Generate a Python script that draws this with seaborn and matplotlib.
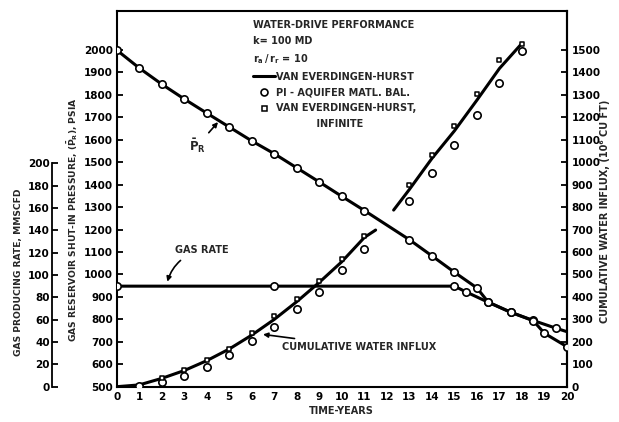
import matplotlib
matplotlib.use("Agg")
import matplotlib.pyplot as plt
from matplotlib.lines import Line2D
import seaborn as sns
import pandas as pd

# ---------------- data ----------------
# Reservoir shut-in pressure, psia (solid line + open circles)
pres_t = [0, 1, 2, 3, 4, 5, 6, 7, 8, 9, 10, 11, 12, 13, 14, 15, 16, 16.5, 17.5, 18.5, 19.5, 20]
pres_v = [2000, 1920, 1848, 1782, 1719, 1657, 1595, 1538, 1475, 1412, 1348, 1285, 1220,
          1155, 1083, 1010, 940, 877, 832, 795, 761, 745]
pres_pt_t = [0, 1, 2, 3, 4, 5, 6, 7, 8, 9, 10, 11, 13, 14, 15, 16, 16.5, 17.5, 18.5, 19.5]
pres_pt_v = [2000, 1920, 1848, 1782, 1719, 1657, 1595, 1538, 1475, 1412, 1348, 1285,
             1155, 1083, 1010, 940, 877, 832, 795, 761]

# Gas producing rate, MMSCFD
gas_t = [0, 7, 15, 15.5, 16.5, 17.5, 18.5, 19, 20]
gas_v = [90, 90, 90, 85, 75.6, 66.6, 59.1, 47.8, 35.8]

# Cumulative water influx, 10^6 cu ft -- Van Everdingen-Hurst line (two segments)
wi_line1_t = [0, 1, 2, 3, 4, 5, 6, 7, 8, 9, 10, 11, 11.5]
wi_line1_v = [0, 8, 37, 72, 116, 168, 230, 300, 379, 465, 557, 665, 698]
wi_line2_t = [12.3, 13, 14, 15, 16, 17, 18]
wi_line2_v = [787, 879, 1017, 1140, 1277, 1418, 1530]
# PI - aquifer material balance (circles)
wi_pi_t = [1, 2, 3, 4, 5, 6, 7, 8, 9, 10, 11, 13, 14, 15, 16, 17, 18]
wi_pi_v = [3, 19, 49, 90, 142, 205, 268, 346, 424, 518, 614, 829, 951, 1077, 1210, 1352, 1497]
# Van Everdingen-Hurst, infinite (squares)
wi_inf_t = [2, 3, 4, 5, 6, 7, 8, 9, 10, 11, 13, 14, 15, 16, 17, 18]
wi_inf_v = [39, 76, 120, 168, 239, 313, 390, 472, 568, 672, 899, 1032, 1161, 1304, 1455, 1525]

x_ticks = list(range(0, 21))
p_ticks = list(range(500, 2001, 100))
wi_ticks = list(range(0, 1501, 100))
gas_ticks = list(range(0, 201, 20))

# ---------------- style ----------------
sns.set_theme(style="white")
plt.rcParams["font.family"] = ["DejaVu Sans"]
plt.rcParams["font.weight"] = "bold"
plt.rcParams["mathtext.fontset"] = "dejavusans"
plt.rcParams["mathtext.default"] = "bf"
plt.rcParams["axes.edgecolor"] = "black"
plt.rcParams["axes.linewidth"] = 1.5

K = "black"
FS_TICK = 7.5
FS_TXT = 7

fig = plt.figure(figsize=(6.19, 4.22), dpi=100)
ax = fig.add_axes([0.18853, 0.08365, 0.72746, 0.89028])
ax2 = ax.twinx()   # water influx (right)
ax3 = ax.twinx()   # gas rate (offset left)

LW = 2.2
# pressure
sns.lineplot(x=pres_t, y=pres_v, ax=ax, color=K, lw=LW, sort=False, estimator=None, zorder=2)
sns.scatterplot(x=pres_pt_t, y=pres_pt_v, ax=ax, marker="o", s=28, color="white",
                edgecolor=K, linewidth=1.2, zorder=4)
# water influx
df1 = pd.DataFrame({"t": wi_line1_t, "v": wi_line1_v})
df2 = pd.DataFrame({"t": wi_line2_t, "v": wi_line2_v})
sns.lineplot(data=df1, x="t", y="v", ax=ax2, color=K, lw=LW, sort=False, estimator=None, zorder=2)
sns.lineplot(data=df2, x="t", y="v", ax=ax2, color=K, lw=LW, sort=False, estimator=None, zorder=2)
sns.scatterplot(x=wi_pi_t, y=wi_pi_v, ax=ax2, marker="o", s=28, color="white",
                edgecolor=K, linewidth=1.2, zorder=4)
sns.scatterplot(x=wi_inf_t, y=wi_inf_v, ax=ax2, marker="s", s=12, color="white",
                edgecolor=K, linewidth=1.1, zorder=4)
# gas rate
sns.lineplot(x=gas_t, y=gas_v, ax=ax3, color=K, lw=LW, sort=False, estimator=None, zorder=2)
sns.scatterplot(x=gas_t, y=gas_v, ax=ax3, marker="o", s=28, color="white",
                edgecolor=K, linewidth=1.2, zorder=4)

# ---------------- axes ----------------
ax.set_xlim(0, 20)
ax.set_ylim(500, 2174)
ax2.set_ylim(0, 1674)
ax3.set_ylim(0, 336.3)

ax.set_xticks(x_ticks)
ax.set_yticks(p_ticks)
ax2.set_yticks(wi_ticks)
ax3.set_yticks(gas_ticks)

for a in (ax, ax2, ax3):
    a.set_xlabel("")
    a.set_ylabel("")
    a.grid(False)

ax.tick_params(axis="x", direction="in", length=4, width=1.3, pad=4, labelsize=FS_TICK, colors=K)
ax.tick_params(axis="y", direction="in", length=4, width=1.3, pad=2.7, labelsize=FS_TICK, colors=K)
ax2.tick_params(axis="y", direction="in", length=4, width=1.3, pad=3.2, labelsize=FS_TICK, colors=K)
ax3.tick_params(axis="y", direction="in", length=4, width=1.3, pad=1.5, labelsize=FS_TICK, colors=K)

for s in ("top", "right", "bottom"):
    ax3.spines[s].set_visible(False)
ax3.spines["left"].set_visible(True)
ax3.spines["left"].set_position(("axes", -0.1437))
ax3.spines["left"].set_bounds(0, 200)
ax3.spines["left"].set_linewidth(1.3)
ax3.yaxis.set_ticks_position("left")
ax3.yaxis.set_label_position("left")
for s in ("top", "left", "bottom"):
    ax2.spines[s].set_visible(False)

# axis labels
ax.text(0.498, -0.065, "TIME-YEARS", transform=ax.transAxes, ha="center", va="center",
        fontsize=FS_TXT, fontweight="bold")
ax.text(-0.097, 0.444, r"GAS RESERVOIR SHUT-IN PRESSURE, $(\bar{P}_R)$, PSIA",
        transform=ax.transAxes, ha="center", va="center", rotation=90,
        fontsize=6.6, fontweight="bold")
ax.text(-0.219, 0.305, "GAS PRODUCING RATE, MMSCFD", transform=ax.transAxes,
        ha="center", va="center", rotation=90, fontsize=6.6, fontweight="bold")
ax.text(1.084, 0.468, "CUMULATIVE WATER INFLUX, (10\u2076 CU FT)", transform=ax.transAxes,
        ha="center", va="center", rotation=90, fontsize=FS_TXT, fontweight="bold")

# annotations
ax.annotate(r"$\bar{P}_R$", xy=(4.5, 1679), xytext=(3.57, 1572), ha="center", va="center",
            fontsize=8.5, fontweight="bold",
            arrowprops=dict(arrowstyle="-|>", color=K, lw=1.2, shrinkA=1, shrinkB=0,
                            mutation_scale=7))
ax3.annotate("GAS RATE", xy=(2.25, 94), xytext=(3.8, 122), ha="center", va="center",
             fontsize=FS_TXT, fontweight="bold",
             arrowprops=dict(arrowstyle="-|>", color=K, lw=1.2, shrinkA=2, shrinkB=0,
                             mutation_scale=7, connectionstyle="arc3,rad=0.3"))
ax2.annotate("CUMULATIVE WATER INFLUX", xy=(6.5, 233), xytext=(7.35, 177), ha="left",
             va="center", fontsize=FS_TXT, fontweight="bold",
             arrowprops=dict(arrowstyle="-|>", color=K, lw=1.2, shrinkA=1, shrinkB=0,
                             mutation_scale=7))

# legend
handles = [Line2D([], [], color=K, lw=LW),
           Line2D([], [], color=K, lw=0, marker="o", markersize=5, markerfacecolor="white",
                  markeredgewidth=1.2),
           Line2D([], [], color=K, lw=0, marker="s", markersize=3.6, markerfacecolor="white",
                  markeredgewidth=1.1),
           Line2D([], [], lw=0)]
labels = ["VAN EVERDINGEN-HURST", "PI - AQUIFER MATL. BAL.",
          "VAN EVERDINGEN-HURST,", "            INFINITE"]
leg = ax.legend(handles, labels, loc="upper left", bbox_to_anchor=(0.303, 0.975),
                frameon=False, fontsize=FS_TXT, handlelength=2.2, handletextpad=0.15,
                labelspacing=0.6, borderpad=0, borderaxespad=0,
                title="WATER-DRIVE PERFORMANCE\nk= 100 MD\n$r_a\\,/\\,r_r$ = 10",
                title_fontproperties={"size": FS_TXT, "weight": "bold"}, alignment="left")
leg.get_title().set_linespacing(1.65)
for t in leg.get_texts():
    t.set_fontweight("bold")

fig.savefig("out.png", dpi=100)
